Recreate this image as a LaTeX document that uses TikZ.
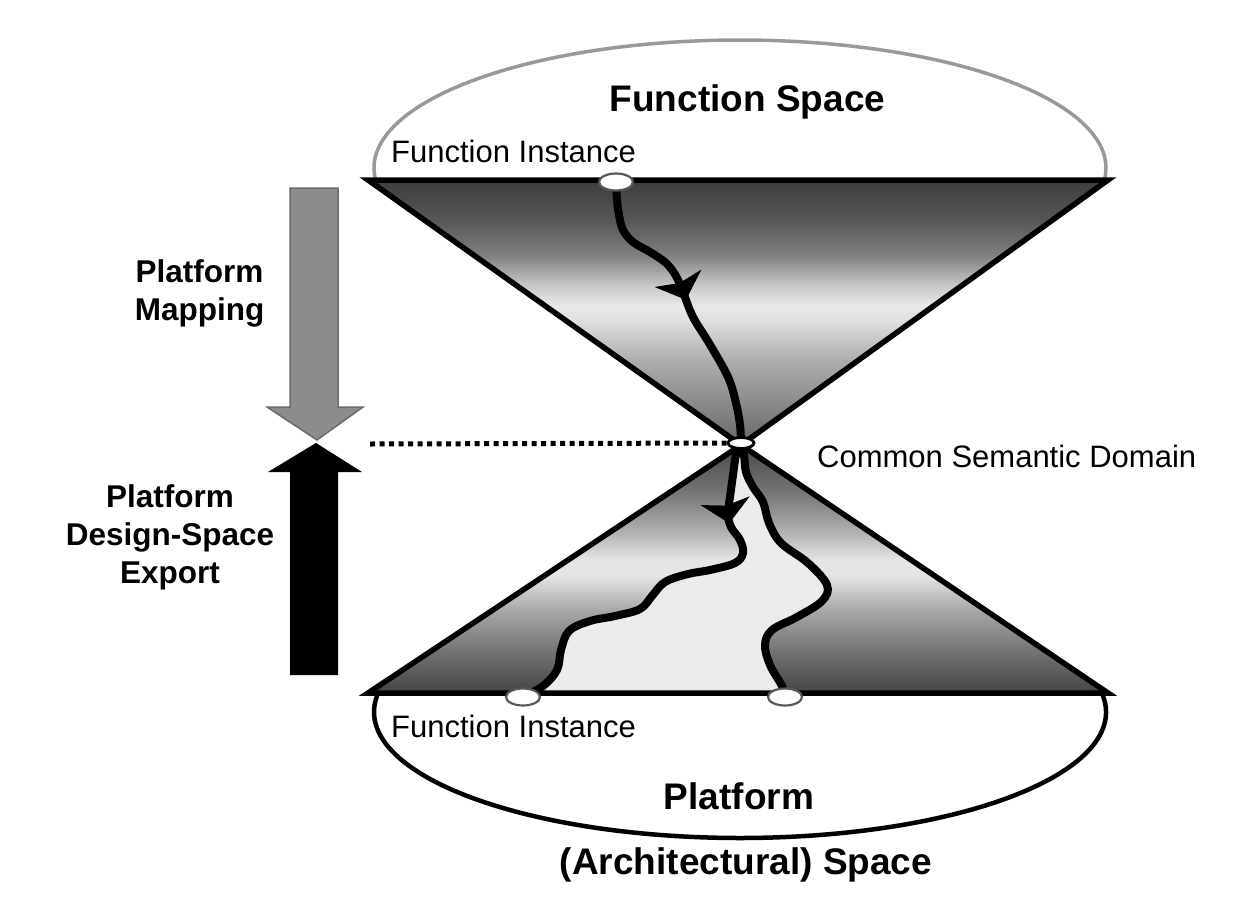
\documentclass[tikz,border=0pt]{standalone}
\usepackage{fontspec}
\setmainfont{Liberation Sans}
\usetikzlibrary{shapes.geometric,decorations.markings}

\pgfdeclarelayer{bg}
\pgfdeclarelayer{fg}
\pgfsetlayers{bg,main,fg}

% vertical grey bands of the two fans (bottom of the shading = lower edge of the fan)
\pgfdeclareverticalshading{upperfan}{100bp}{
  color(0bp)=(black!60); color(25bp)=(black!60);
  color(31.6bp)=(black!48); color(41bp)=(black!32);
  color(48.6bp)=(black!12); color(51.4bp)=(black!9);
  color(55.2bp)=(black!22); color(60.8bp)=(black!50);
  color(67.5bp)=(black!66); color(75bp)=(black!76);
  color(100bp)=(black!76)}
\pgfdeclareverticalshading{lowerfan}{100bp}{
  color(0bp)=(black!72); color(25.6bp)=(black!72);
  color(33.7bp)=(black!54); color(41.7bp)=(black!34);
  color(48.8bp)=(black!10); color(51.8bp)=(black!10);
  color(57.9bp)=(black!32); color(65.9bp)=(black!55);
  color(74bp)=(black!70); color(100bp)=(black!70)}

\definecolor{rimgray}{gray}{0.6}
\definecolor{mapgray}{gray}{0.55}
\definecolor{mapedge}{gray}{0.42}
\definecolor{corridor}{gray}{0.925}

\tikzset{
  instance/.style={ellipse, draw=black!65, line width=2.2pt, fill=white,
    minimum width=34pt, minimum height=17pt, inner sep=0pt},
  hub/.style={ellipse, draw=black, line width=2.8pt, fill=white,
    minimum width=26pt, minimum height=11pt, inner sep=0pt},
  route/.style={line width=8pt, line cap=round, line join=round},
  % wide, blunt barb placed along a route
  fwd/.style={postaction={decorate}, decoration={markings,
    mark=at position #1 with {\fill[black] (4pt,0pt) -- (-19pt,25pt) -- (-14pt,0pt)
      -- (-19pt,-25pt) -- cycle;}}},
  fanedge/.style={line width=5.5pt, line join=miter},
  dotline/.style={line width=5pt, dash pattern=on 5pt off 4.5pt},
  lbl/.style={font=\fontsize{31}{37}\selectfont, inner sep=0pt},
  sidelbl/.style={font=\fontsize{31.5}{38}\selectfont\bfseries, inner sep=0pt, align=center},
  titlelbl/.style={font=\fontsize{37}{44}\selectfont\bfseries, inner sep=0pt}
}

% way points of the three refinement routes
\def\toppts{(fiTop.center) (617,200) (619,215) (623,230) (633,242) (650,252)
  (666,263) (676,276) (683,292) (693,317) (709,343) (728,377) (736,403)
  (740,425) (apx.center)}
\def\leftpts{(apx.center) (736,455) (733,475) (730,497) (728,514) (731,527)
  (740,540) (743,553) (735,563) (710,570) (688,574) (665,582) (652,596)
  (640,609) (615,616) (590,621) (569,631) (561,650) (557,670) (543,686)
  (fiL.center)}
\def\rightpts{(fiR.center) (782,686) (770,665) (765,645) (772,630) (797,617)
  (822,601) (827,585) (808,563) (781,543) (769,523) (763,502) (753,487)
  (746,472) (744,455) (apx.center)}
\edef\toproute{plot[smooth,tension=0.6] coordinates {\toppts}}
\edef\leftroute{plot[smooth,tension=0.6] coordinates {\leftpts}}
\edef\rightroute{plot[smooth,tension=0.6] coordinates {\rightpts}}
\edef\rightjoin{-- plot[smooth,tension=0.6] coordinates {\rightpts}}

\begin{document}
\begin{tikzpicture}[x=1pt,y=-1pt]
\useasboundingbox (0,0) rectangle (1236,897);

% instances and the common semantic domain
\begin{pgfonlayer}{fg}
  \node[instance] (fiTop) at (616,182) {};
  \node[hub] (apx) at (741,443) {};
  \node[instance] (fiL) at (523,697) {};
  \node[instance] (fiR) at (785,697) {};
\end{pgfonlayer}

\begin{pgfonlayer}{bg}
  \fill[white] (0,0) rectangle (1236,897);
  % function space and platform space rims
  \draw[rimgray, line width=3.5pt] (740,168) ++(174.6:366 and 128)
    arc[start angle=174.6, end angle=365.4, x radius=366, y radius=128];
  \draw[black, line width=4.5pt] (740,712) ++(-8.7:366 and 126)
    arc[start angle=-8.7, end angle=188.7, x radius=366, y radius=126];
  % shaded fans
  \shade[shading=upperfan] (368,180) -- (1108,180) -- (741,445) -- cycle;
  \shade[shading=lowerfan] (741,445) -- (1108,693) -- (368,693) -- cycle;
  % light corridor between the two lower routes
  \begin{scope}
    \clip (741,445) -- (1108,693) -- (368,693) -- cycle;
    \fill[corridor] \leftroute \rightjoin -- cycle;
  \end{scope}
\end{pgfonlayer}

% fan outlines
\draw[fanedge] (368,180) -- (1108,180) -- (741,445) -- cycle;
\draw[fanedge] (741,445) -- (1108,693) -- (368,693) -- cycle;

% routes
\draw[route, fwd=142pt] \toproute;
\draw[route, fwd=78pt] \leftroute;
\draw[route] \rightroute;

% dotted level of the common semantic domain
\coordinate (dotstart) at (370,444);
\draw[dotline] (dotstart) -- (apx.west);

% platform mapping (down) and design-space export (up)
\draw[fill=mapgray, draw=mapedge, line width=1.5pt, line join=miter]
  (290,188) -- (338,188) -- (338,407) -- (363,407) -- (317,440)
  -- (267,407) -- (290,407) -- cycle;
\fill[black] (290,675) -- (338,675) -- (338,472) -- (362,472) -- (316,443)
  -- (268,472) -- (290,472) -- cycle;

% labels
\node[titlelbl, anchor=base] (fsLbl) at (747.5,111) {Function Space};
\node[lbl, anchor=base west] (fiTopLbl) at (391,162) {Function Instance};
\node[lbl, anchor=base west] (csdLbl) at (817,467) {Common Semantic Domain};
\node[lbl, anchor=base west] (fiBotLbl) at (391,737) {Function Instance};
\node[titlelbl, anchor=base] (psLbl) at (739,809) {Platform};
\node[titlelbl, anchor=base] (archLbl) at (746,874) {(Architectural) Space};
\node[sidelbl, anchor=north] (mapLbl) at (199.5,259) {Platform\\Mapping};
\node[sidelbl, anchor=north] (expLbl) at (170,484) {Platform\\Design-Space\\Export};
\end{tikzpicture}
\end{document}
